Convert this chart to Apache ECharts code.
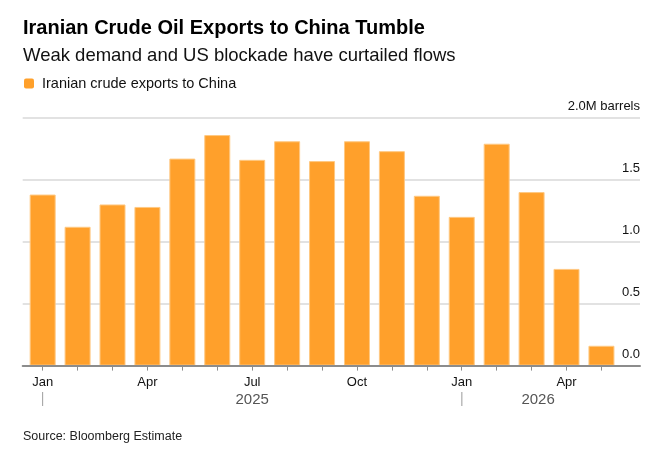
<!DOCTYPE html>
<html>
<head>
<meta charset="utf-8">
<style>
  html, body { margin: 0; padding: 0; background: #fff; }
  #main { width: 667px; height: 454px; }
</style>
</head>
<body>
<div id="main"></div>
<script src="https://cdn.jsdelivr.net/npm/echarts@6/dist/echarts.min.js"></script>
<script>
// months Jan 2025 .. May 2026
var months = ['Jan', 'Feb', 'Mar', 'Apr', 'May', 'Jun', 'Jul', 'Aug', 'Sep', 'Oct', 'Nov', 'Dec',
              'Jan', 'Feb', 'Mar', 'Apr', 'May'];
var yearLabels = ['|', '', '', '', '', '', '2025', '', '', '', '', '',
                  '|', '', '2026', '', ''];
// million barrels per day
var exports = [1.38, 1.12, 1.30, 1.28, 1.67, 1.86, 1.66, 1.81, 1.65, 1.81, 1.73, 1.37,
               1.20, 1.79, 1.40, 0.78, 0.16];
var yTicks = { 0: '0.0', 0.5: '0.5', 1: '1.0', 1.5: '1.5', 2: '2.0M barrels' };

var font = 'Liberation Sans';
var chart = echarts.init(document.getElementById('main'));

var option = {
    animation: false,
    textStyle: { fontFamily: font },
    title: [{
        text: 'Iranian Crude Oil Exports to China Tumble',
        subtext: 'Weak demand and US blockade have curtailed flows',
        left: 18, top: 13,
        itemGap: 8,
        textStyle: { fontFamily: font, fontSize: 20, fontWeight: 'bold', color: '#000' },
        subtextStyle: { fontFamily: font, fontSize: 18.5, color: '#111' }
    }, {
        text: 'Source: Bloomberg Estimate',
        left: 18, top: 425,
        textStyle: { fontFamily: font, fontSize: 12.5, fontWeight: 'normal', color: '#222' }
    }],
    legend: {
        left: 19, top: 71,
        icon: 'path://M2,0 L8,0 Q10,0 10,2 L10,8 Q10,10 8,10 L2,10 Q0,10 0,8 L0,2 Q0,0 2,0 Z',
        itemWidth: 10, itemHeight: 10,
        itemStyle: { borderWidth: 0 },
        textStyle: { fontFamily: font, fontSize: 14.5, color: '#111', padding: [0, 0, 0, 3] },
        data: ['Iranian crude exports to China']
    },
    grid: [
        // full-width grid for gridlines, y labels and baseline
        { left: 22.7, right: 27, top: 117.7, height: 247.9 },
        // bar grid
        { left: 25.2, right: 48.1, top: 117.7, height: 247.9 }
    ],
    xAxis: [{
        gridIndex: 0, type: 'value', min: 0, max: 1,
        axisLine: { show: true, lineStyle: { color: '#8c8c8c', width: 2 } },
        axisTick: { show: false }, axisLabel: { show: false }, splitLine: { show: false },
        z: 5
    }, {
        gridIndex: 1, type: 'category', data: months,
        axisLine: { show: false },
        axisTick: { show: true, alignWithLabel: true, interval: 0, length: 5, lineStyle: { color: '#8c8c8c', width: 1 } },
        axisLabel: {
            interval: function (i) { return i % 3 === 0; },
            margin: 10, fontSize: 13, color: '#111', fontFamily: font
        }
    }, {
        gridIndex: 1, type: 'category', data: yearLabels, position: 'bottom', offset: 17,
        axisLine: { show: false }, axisTick: { show: false },
        axisLabel: {
            interval: 0, margin: 10, fontSize: 15, color: '#555', fontFamily: font,
            formatter: function (v) {
                if (v === '|') return '{bar|' + v + '}';
                if (v === '2026') return '{shift|' + v + '}';
                return v;
            },
            rich: {
                bar: { color: '#aaa', fontSize: 14 },
                shift: { padding: [0, 0, 0, 13], fontSize: 15, color: '#555' }
            }
        }
    }],
    yAxis: [{
        gridIndex: 0, type: 'value', min: 0, max: 2, interval: 0.5, position: 'right',
        axisLine: { show: false }, axisTick: { show: false },
        axisLabel: {
            inside: true, margin: 0, fontSize: 13, color: '#111', fontFamily: font,
            verticalAlign: 'bottom', padding: [0, 0, 5, 0],
            formatter: function (v) { return yTicks[v]; }
        },
        splitLine: { show: true, lineStyle: { color: '#e2e2e2', width: 2 } }
    }, {
        gridIndex: 1, type: 'value', min: 0, max: 2, show: false
    }],
    series: [{
        name: 'Iranian crude exports to China',
        type: 'bar',
        xAxisIndex: 1, yAxisIndex: 1,
        barWidth: 26,
        data: exports,
        itemStyle: { color: '#ffa02b', borderColor: '#ffc983', borderWidth: 1 }
    }]
};
chart.setOption(option);
</script>
</body>
</html>
